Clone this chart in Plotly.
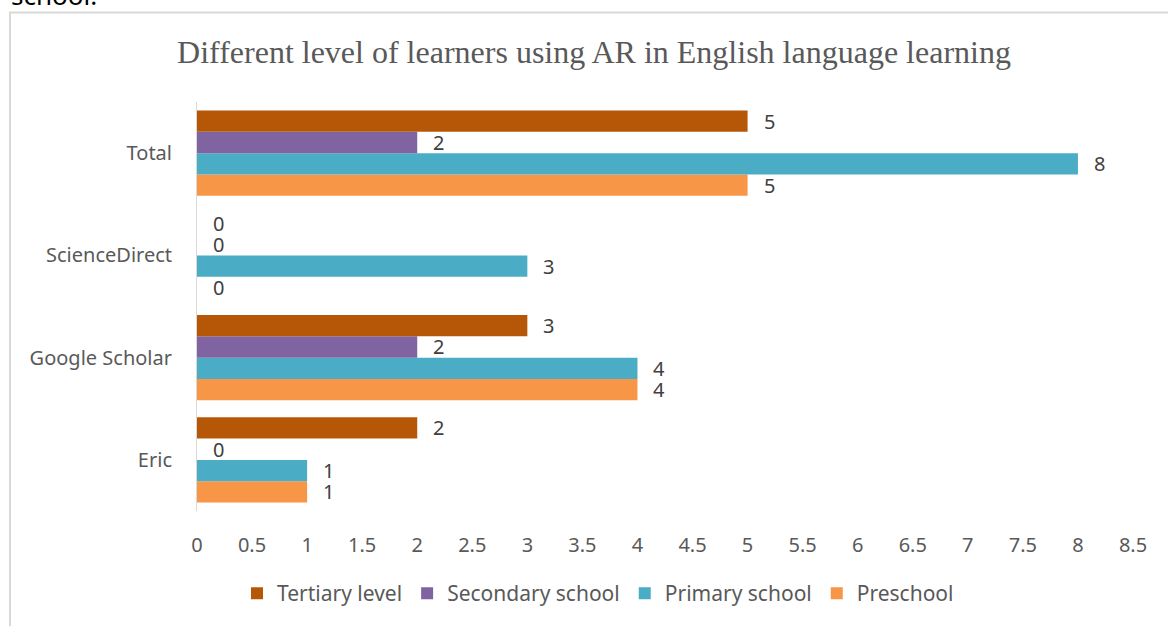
import plotly.graph_objects as go

categories = ["Eric", "Google Scholar", "ScienceDirect", "Total"]
tertiary = [2, 3, 0, 5]
secondary = [0, 2, 0, 2]
primary = [1, 4, 3, 8]
preschool = [1, 4, 0, 5]
x_ticks = [0, 0.5, 1, 1.5, 2, 2.5, 3, 3.5, 4, 4.5, 5, 5.5, 6, 6.5, 7, 7.5, 8, 8.5]

L, R, T, B = 197, 35, 102, 113
W, H = 1168, 626
PW, PH = W - L - R, H - T - B

def px_x(p):
    return (p - L) / PW

def px_y(p):
    return (H - B - p) / PH

series = [
    ("Preschool", preschool, "#F79646"),
    ("Primary school", primary, "#4BACC6"),
    ("Secondary school", secondary, "#8064A2"),
    ("Tertiary level", tertiary, "#B65708"),
]

fig = go.Figure()
for name, vals, color in series:
    fig.add_trace(go.Bar(
        y=categories, x=vals, name=name, orientation="h",
        marker=dict(color=color, line=dict(width=0)),
        text=[str(v) for v in vals], textposition="none",
        hoverinfo="x+name",
    ))

# data labels as annotations placed via the category axis offsets
n = len(series)
group_frac = 1 - 0.165
slot = group_frac / n
for i, (name, vals, color) in enumerate(series):
    offset = -group_frac / 2 + slot * (i + 0.5)
    for ci, v in enumerate(vals):
        fig.add_annotation(
            x=v, y=ci + offset, xref="x", yref="y",
            text=str(v), showarrow=False, xanchor="left", yanchor="middle",
            xshift=15, height=19, borderpad=0,
            font=dict(family="Noto Sans", size=20, color="#404040"),
        )

fig.update_layout(
    width=W, height=H,
    margin=dict(l=L, r=R, t=T, b=B),
    paper_bgcolor="white", plot_bgcolor="white",
    barmode="group", bargap=0.165, bargroupgap=0,
    title=dict(
        text="Different level of learners using AR in English language learning",
        font=dict(family="Liberation Serif", size=32, color="#595959"),
        x=px_x(594), xref="paper", xanchor="center",
        y=1 - 52 / H, yref="container", yanchor="middle",
    ),
    xaxis=dict(
        range=[0, 8.5], tickvals=x_ticks, ticktext=[f"{t:g}" for t in x_ticks],
        showgrid=False, zeroline=False, showline=False, ticks="",
        tickfont=dict(family="Noto Sans", size=20, color="#595959"),
        ticklabelstandoff=20,
    ),
    yaxis=dict(
        categoryorder="array", categoryarray=categories,
        showgrid=False, zeroline=False, showline=True, linecolor="#D9D9D9", linewidth=1,
        ticks="", tickfont=dict(family="Noto Sans", size=20, color="#595959"),
        ticklabelstandoff=20,
    ),
    legend=dict(
        orientation="h", traceorder="reversed",
        x=px_x(598), xanchor="center", y=px_y(596), yanchor="middle",
        font=dict(family="Noto Sans", size=21, color="#595959"),
        itemclick=False, itemwidth=30,
    ),
    showlegend=True,
    shapes=[dict(
        type="rect", xref="paper", yref="paper",
        x0=px_x(10), x1=px_x(1180), y0=px_y(12), y1=px_y(640),
        line=dict(color="#D9D9D9", width=2), fillcolor="rgba(0,0,0,0)", layer="below",
    )],
)

fig.add_annotation(
    text="school.", xref="paper", yref="paper",
    x=px_x(9), y=px_y(15), xanchor="left", yanchor="bottom",
    showarrow=False, font=dict(family="Noto Sans", size=26, color="#000000"),
)

fig.write_html(
    "out.html",
    config={"displayModeBar": False},
    post_script="document.body.style.margin='0';document.body.style.overflow='hidden';",
)
